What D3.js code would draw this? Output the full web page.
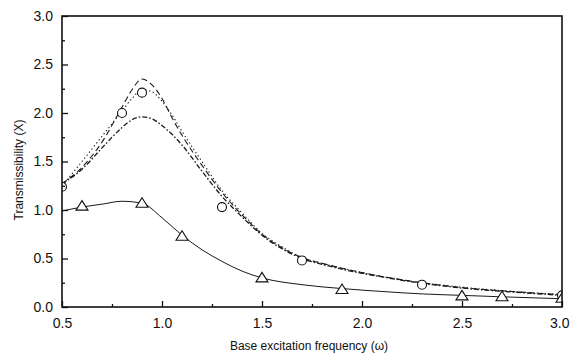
<!DOCTYPE html>
<html>
<head>
<meta charset="utf-8">
<script src="https://cdn.jsdelivr.net/npm/d3@7"></script>
<style>
  body { margin: 0; background: #fff; }
  text { font-family: "Liberation Sans", Arial, sans-serif; fill: #111; }
</style>
</head>
<body>
<div id="chart"></div>
<script>
// basic dimensions
var width = 570;
var height = 356;
var margin = { top: 16, right: 8, bottom: 49, left: 62 };
var innerW = width - margin.left - margin.right;
var innerH = height - margin.top - margin.bottom;

// DATA
// frequencies where the three upper curves were read
var freq = [0.5, 0.6, 0.7, 0.8, 0.85, 0.9, 0.95, 1.0, 1.05, 1.1, 1.2, 1.3, 1.4, 1.5, 1.6, 1.7, 1.8, 1.9, 2.1, 2.3, 2.5, 2.75, 3.0];
var dashedVals = [1.27, 1.44, 1.70, 2.06, 2.24, 2.35, 2.29, 2.15, 1.95, 1.77, 1.46, 1.18, 0.95, 0.75, 0.61, 0.51, 0.45, 0.40, 0.315, 0.25, 0.20, 0.16, 0.125];
var dottedVals = [1.25, 1.50, 1.76, 2.02, 2.15, 2.24, 2.22, 2.12, 1.98, 1.81, 1.50, 1.20, 0.97, 0.76, 0.62, 0.51, 0.45, 0.40, 0.315, 0.25, 0.205, 0.16, 0.13];
var dashDotVals = [1.27, 1.42, 1.64, 1.85, 1.93, 1.96, 1.94, 1.87, 1.78, 1.67, 1.40, 1.14, 0.93, 0.74, 0.60, 0.50, 0.44, 0.39, 0.31, 0.245, 0.195, 0.155, 0.12];

// lower solid curve
var freqSolid = [0.5, 0.6, 0.7, 0.8, 0.9, 1.0, 1.1, 1.2, 1.3, 1.4, 1.5, 1.7, 1.9, 2.1, 2.3, 2.5, 2.7, 3.0];
var solidVals = [0.99, 1.03, 1.06, 1.09, 1.07, 0.92, 0.74, 0.59, 0.47, 0.37, 0.30, 0.23, 0.19, 0.16, 0.135, 0.12, 0.105, 0.085];

// measured points
var circleX = [0.5, 0.8, 0.9, 1.3, 1.7, 2.3, 3.0];
var circleY = [1.24, 2.0, 2.21, 1.03, 0.48, 0.23, 0.12];
var triX = [0.6, 0.9, 1.1, 1.5, 1.9, 2.5, 2.7, 3.0];
var triY = [1.04, 1.07, 0.73, 0.30, 0.18, 0.115, 0.105, 0.09];

// ticks
var xMajor = [0.5, 1.0, 1.5, 2.0, 2.5, 3.0];
var xMinor = [0.75, 1.25, 1.75, 2.25, 2.75];
var yMajor = [0.0, 0.5, 1.0, 1.5, 2.0, 2.5, 3.0];
var yMinor = [0.25, 0.75, 1.25, 1.75, 2.25, 2.75];

// SCALES
var xScale = d3.scaleLinear().domain([0.5, 3.0]).range([0, innerW]);
var yScale = d3.scaleLinear().domain([0, 3.0]).range([innerH, 0]);

var svg = d3.select("#chart")
    .append("svg")
    .attr("width", width)
    .attr("height", height)
    .append("g")
    .attr("transform", "translate(" + margin.left + "," + margin.top + ")");

svg.append("clipPath").attr("id", "plotClip")
    .append("rect").attr("width", innerW).attr("height", innerH);

// line generator
var lineGen = d3.line()
    .curve(d3.curveMonotoneX)
    .x(function(d) { return xScale(d[0]); })
    .y(function(d) { return yScale(d[1]); });

function pairs(xs, ys) {
    return xs.map(function(x, i) { return [x, ys[i]]; });
}

var curves = [
    { vals: pairs(freq, dashedVals), dash: "6,3.5", w: 1.1 },
    { vals: pairs(freq, dottedVals), dash: "1.3,2.6", w: 1.1 },
    { vals: pairs(freq, dashDotVals), dash: "5,2,1.6,2", w: 1.3 },
    { vals: pairs(freqSolid, solidVals), dash: null, w: 1 }
];

var plot = svg.append("g").attr("clip-path", "url(#plotClip)");

plot.selectAll(".curve")
    .data(curves)
    .enter()
    .append("path")
    .attr("class", "curve")
    .attr("d", function(d) { return lineGen(d.vals); })
    .attr("fill", "none")
    .attr("stroke", "#1a1a1a")
    .attr("stroke-width", function(d) { return d.w; })
    .attr("stroke-dasharray", function(d) { return d.dash; });

// circle markers
plot.selectAll(".circ")
    .data(pairs(circleX, circleY))
    .enter()
    .append("circle")
    .attr("class", "circ")
    .attr("cx", function(d) { return xScale(d[0]); })
    .attr("cy", function(d) { return yScale(d[1]); })
    .attr("r", 4.5)
    .attr("fill", "#fff")
    .attr("stroke", "#111")
    .attr("stroke-width", 1.1);

// triangle markers
plot.selectAll(".tri")
    .data(pairs(triX, triY))
    .enter()
    .append("path")
    .attr("class", "tri")
    .attr("transform", function(d) {
        return "translate(" + xScale(d[0]) + "," + yScale(d[1]) + ")";
    })
    .attr("d", "M0,-5.5L6,4L-6,4Z")
    .attr("fill", "#fff")
    .attr("stroke", "#111")
    .attr("stroke-width", 1.1);

// AXES
svg.append("g")
    .attr("class", "x axis")
    .attr("transform", "translate(0," + innerH + ")")
    .call(d3.axisBottom(xScale).tickValues(xMajor).tickSize(-6).tickPadding(11)
        .tickFormat(d3.format(".1f")));
svg.append("g")
    .attr("transform", "translate(0," + innerH + ")")
    .call(d3.axisBottom(xScale).tickValues(xMinor).tickSize(-3).tickFormat(""));

svg.append("g")
    .call(d3.axisLeft(yScale).tickValues(yMajor).tickSize(-6).tickPadding(9)
        .tickFormat(d3.format(".1f")));
svg.append("g")
    .call(d3.axisLeft(yScale).tickValues(yMinor).tickSize(-3).tickFormat(""));

svg.selectAll(".domain").remove();
svg.selectAll(".tick line").attr("stroke", "#111").attr("stroke-width", 1.3);
svg.selectAll(".tick text").style("font-size", "14px").attr("fill", "#111");

// last x label sits against the page edge, as in the original
svg.selectAll(".x.axis .tick text")
    .filter(function(d) { return d === 3.0; })
    .attr("text-anchor", "end")
    .attr("x", 7);

// frame
svg.append("rect")
    .attr("width", innerW)
    .attr("height", innerH)
    .attr("fill", "none")
    .attr("stroke", "#111")
    .attr("stroke-width", 1.6);

// axis titles
svg.append("text")
    .attr("x", innerW / 2 - 3)
    .attr("y", innerH + 43)
    .attr("text-anchor", "middle")
    .style("font-size", "12px")
    .text("Base excitation frequency (\u03c9)");

svg.append("text")
    .attr("transform", "translate(" + (23 - margin.left) + "," + (170 - margin.top) + ") rotate(-90)")
    .attr("text-anchor", "middle")
    .style("font-size", "12px")
    .text("Transmissibility (X)");
</script>
</body>
</html>
